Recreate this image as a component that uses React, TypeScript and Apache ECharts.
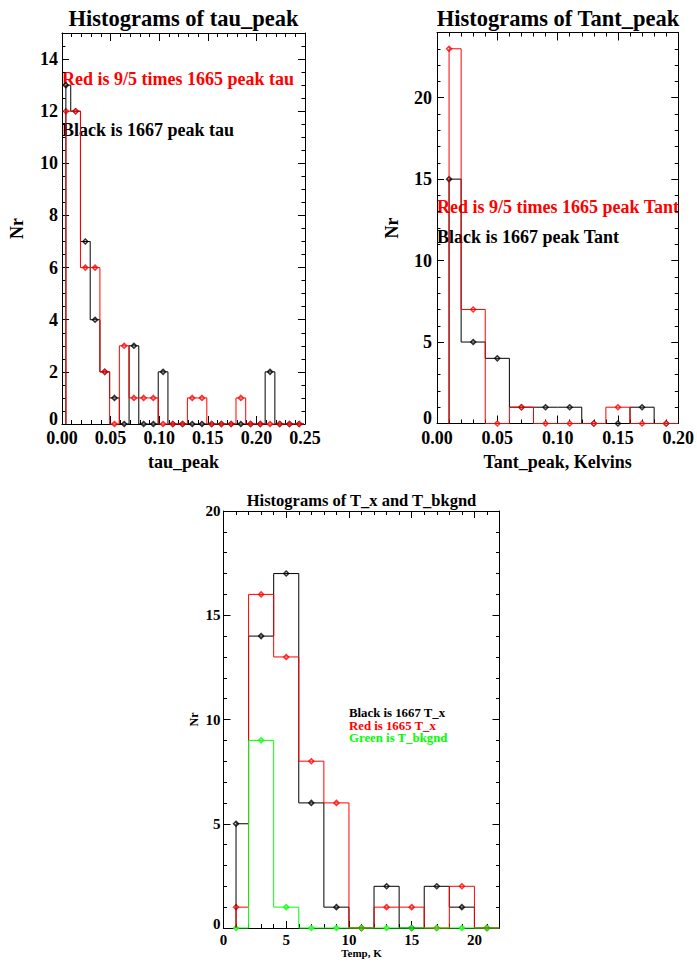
import React, { useEffect, useRef } from 'react';
import * as echarts from 'echarts';

// ---- data ----
const tauCenters = [0.004, 0.014, 0.024, 0.034, 0.044, 0.054, 0.064, 0.074, 0.084, 0.094, 0.104, 0.114, 0.124, 0.134, 0.144, 0.154, 0.164, 0.174, 0.184, 0.194, 0.204, 0.214, 0.224, 0.234, 0.244];
const tau1667 = [13, 12, 7, 4, 2, 1, 0, 3, 0, 0, 2, 0, 0, 0, 0, 0, 0, 0, 0, 0, 0, 2, 0, 0, 0];
const tau1665x = [12, 12, 6, 6, 2, 0, 3, 1, 1, 1, 0, 0, 0, 1, 1, 0, 0, 0, 1, 0, 0, 0, 0, 0, 0];

const tantCenters = [0.01, 0.03, 0.05, 0.07, 0.09, 0.11, 0.13, 0.15, 0.17, 0.19];
const tant1667 = [15, 5, 4, 1, 1, 1, 0, 0, 1, 0];
const tant1665x = [23, 7, 0, 1, 0, 0, 0, 1, 0, 0];

const tempCenters = [1, 3, 5, 7, 9, 11, 13, 15, 17, 19, 21];
const tx1667 = [5, 14, 17, 6, 1, 0, 2, 0, 2, 1, 0];
const tx1665 = [1, 16, 13, 8, 6, 0, 1, 1, 0, 2, 0];
const tBkgnd = [0, 9, 1, 0, 0, 0, 0, 0, 0, 0, 0];

const FONT = 'Liberation Serif';
const RED = '#ff0000';
const BLACK = '#000000';
const GREEN = '#00ff00';

function stepLine(xs: number[], vs: number[]) {
  const half = (xs[1] - xs[0]) / 2;
  const pts: number[][] = [[xs[0], 0], [xs[0], vs[0]]];
  for (let i = 0; i < xs.length - 1; i++) {
    const mid = (xs[i] + xs[i + 1]) / 2;
    pts.push([mid, vs[i]], [mid, vs[i + 1]]);
  }
  const end = xs[xs.length - 1] + half;
  pts.push([end, vs[vs.length - 1]], [end, 0]);
  return pts;
}

function histSeries(axisIdx: number, xs: number[], vs: number[], color: string) {
  return [
    {
      type: 'line', xAxisIndex: axisIdx, yAxisIndex: axisIdx, data: stepLine(xs, vs),
      showSymbol: false, symbol: 'none', clip: false, silent: true,
      lineStyle: { color, width: 1 },
    },
    {
      type: 'scatter', xAxisIndex: axisIdx, yAxisIndex: axisIdx,
      data: xs.map((x, i) => [x, vs[i]]), symbol: 'diamond', symbolSize: 5, clip: false, silent: true,
      itemStyle: { color: '#ffffff', borderColor: color, borderWidth: 1.5 },
    },
  ];
}

type AxCfg = {
  g: number; min: number; max: number; major: number; minor: number;
  fs: number; name: string; nameFs: number; nameGap: number; margin: number;
  dec: number; showMax: boolean; majLen: number; minLen: number; zeroLift?: number;
};

function makeAxes(c: AxCfg, horizontal: boolean) {
  const p1 = horizontal ? 'bottom' : 'left';
  const p2 = horizontal ? 'top' : 'right';
  const base = { type: 'value', gridIndex: c.g, min: c.min, max: c.max, splitLine: { show: false } };
  const line = { show: true, onZero: false, lineStyle: { color: '#000', width: 1 } };
  const noLine = { show: false, onZero: false };
  const lbl = { fontFamily: FONT, fontWeight: 'bold', fontSize: c.fs, color: '#000' };
  return [
    {
      ...base, position: p1, interval: c.major, axisLine: line,
      axisTick: { show: true, inside: true, length: c.majLen, lineStyle: { color: '#000' } },
      axisLabel: {
        show: true, margin: c.margin, ...lbl,
        showMaxLabel: c.showMax,
        formatter: (v: number) => (c.zeroLift && v === 0 ? '{z|0}' : v.toFixed(c.dec)),
        rich: { z: { ...lbl, padding: [0, 0, c.zeroLift || 0, 0] } },
      },
      name: c.name, nameLocation: 'middle', nameGap: c.nameGap,
      nameTextStyle: { fontFamily: FONT, fontWeight: 'bold', fontSize: c.nameFs, color: '#000' },
    },
    {
      ...base, position: p1, interval: c.minor, axisLine: noLine,
      axisTick: { show: true, inside: true, length: c.minLen, lineStyle: { color: '#000' } },
      axisLabel: { show: false },
    },
    {
      ...base, position: p2, interval: c.major, axisLine: line,
      axisTick: { show: true, inside: true, length: c.majLen, lineStyle: { color: '#000' } },
      axisLabel: { show: false },
    },
    {
      ...base, position: p2, interval: c.minor, axisLine: noLine,
      axisTick: { show: true, inside: true, length: c.minLen, lineStyle: { color: '#000' } },
      axisLabel: { show: false },
    },
  ];
}

function txt(x: number, y: number, text: string, size: number, color: string, align = 'left') {
  return {
    type: 'text', x, y, silent: true,
    style: { text, fontFamily: FONT, fontWeight: 'bold', fontSize: size, fill: color, textAlign: align, textVerticalAlign: 'middle' },
  };
}

export default function App() {
  const ref = useRef<HTMLDivElement>(null);
  useEffect(() => {
    if (!ref.current) return;
    const chart = echarts.init(ref.current, undefined, { renderer: 'svg' });
    const xAxis = [
      ...makeAxes({ g: 0, min: 0, max: 0.25, major: 0.05, minor: 0.01, fs: 18, name: 'tau_peak', nameFs: 18, nameGap: 29, margin: 5, dec: 2, showMax: true, majLen: 8, minLen: 4 }, true),
      ...makeAxes({ g: 1, min: 0, max: 0.2, major: 0.05, minor: 0.01, fs: 18, name: 'Tant_peak, Kelvins', nameFs: 18, nameGap: 29, margin: 5, dec: 2, showMax: true, majLen: 8, minLen: 4 }, true),
      ...makeAxes({ g: 2, min: 0, max: 22, major: 5, minor: 1, fs: 15, name: 'Temp, K', nameFs: 11, nameGap: 19, margin: 4, dec: 0, showMax: false, majLen: 7, minLen: 4 }, true),
    ];
    const yAxis = [
      ...makeAxes({ g: 0, min: 0, max: 15, major: 2, minor: 0.5, fs: 18, name: 'Nr', nameFs: 18, nameGap: 36, margin: 4, dec: 0, showMax: false, majLen: 7, minLen: 3.5, zeroLift: 10 }, false),
      ...makeAxes({ g: 1, min: 0, max: 24, major: 5, minor: 1, fs: 18, name: 'Nr', nameFs: 18, nameGap: 36, margin: 5, dec: 0, showMax: false, majLen: 7, minLen: 3.5, zeroLift: 11 }, false),
      ...makeAxes({ g: 2, min: 0, max: 20, major: 5, minor: 1, fs: 15, name: 'Nr', nameFs: 12, nameGap: 24, margin: 3, dec: 0, showMax: true, majLen: 7, minLen: 3.5, zeroLift: 9 }, false),
    ];
    chart.setOption({
      animation: false,
      backgroundColor: '#ffffff',
      grid: [
        { left: 62, top: 33, width: 243, height: 391 },
        { left: 437, top: 32.5, width: 242, height: 391 },
        { left: 223.5, top: 511, width: 276, height: 417 },
      ],
      xAxis,
      yAxis,
      series: [
        ...histSeries(0, tauCenters, tau1667, BLACK),
        ...histSeries(0, tauCenters, tau1665x, RED),
        ...histSeries(4, tantCenters, tant1667, BLACK),
        ...histSeries(4, tantCenters, tant1665x, RED),
        ...histSeries(8, tempCenters, tx1667, BLACK),
        ...histSeries(8, tempCenters, tx1665, RED),
        ...histSeries(8, tempCenters, tBkgnd, GREEN),
      ],
      graphic: [
        txt(183.5, 18, 'Histograms of tau_peak', 22.5, BLACK, 'center'),
        txt(558, 18, 'Histograms of Tant_peak', 22.5, BLACK, 'center'),
        txt(361.5, 500, 'Histograms of T_x and T_bkgnd', 16.5, BLACK, 'center'),
        txt(62, 79, 'Red is 9/5 times 1665 peak tau', 18, RED),
        txt(62, 130, 'Black is 1667 peak tau', 18, BLACK),
        txt(437, 207, 'Red is 9/5 times 1665 peak Tant', 18, RED),
        txt(437, 237, 'Black is 1667 peak Tant', 18, BLACK),
        txt(349, 713, 'Black is 1667 T_x', 12.8, BLACK),
        txt(349, 725.5, 'Red is 1665 T_x', 12.8, RED),
        txt(349, 738, 'Green is T_bkgnd', 12.8, GREEN),
      ],
    });
    return () => chart.dispose();
  }, []);
  return <div ref={ref} style={{ position: 'absolute', left: 0, top: 0, width: 697, height: 963 }} />;
}
